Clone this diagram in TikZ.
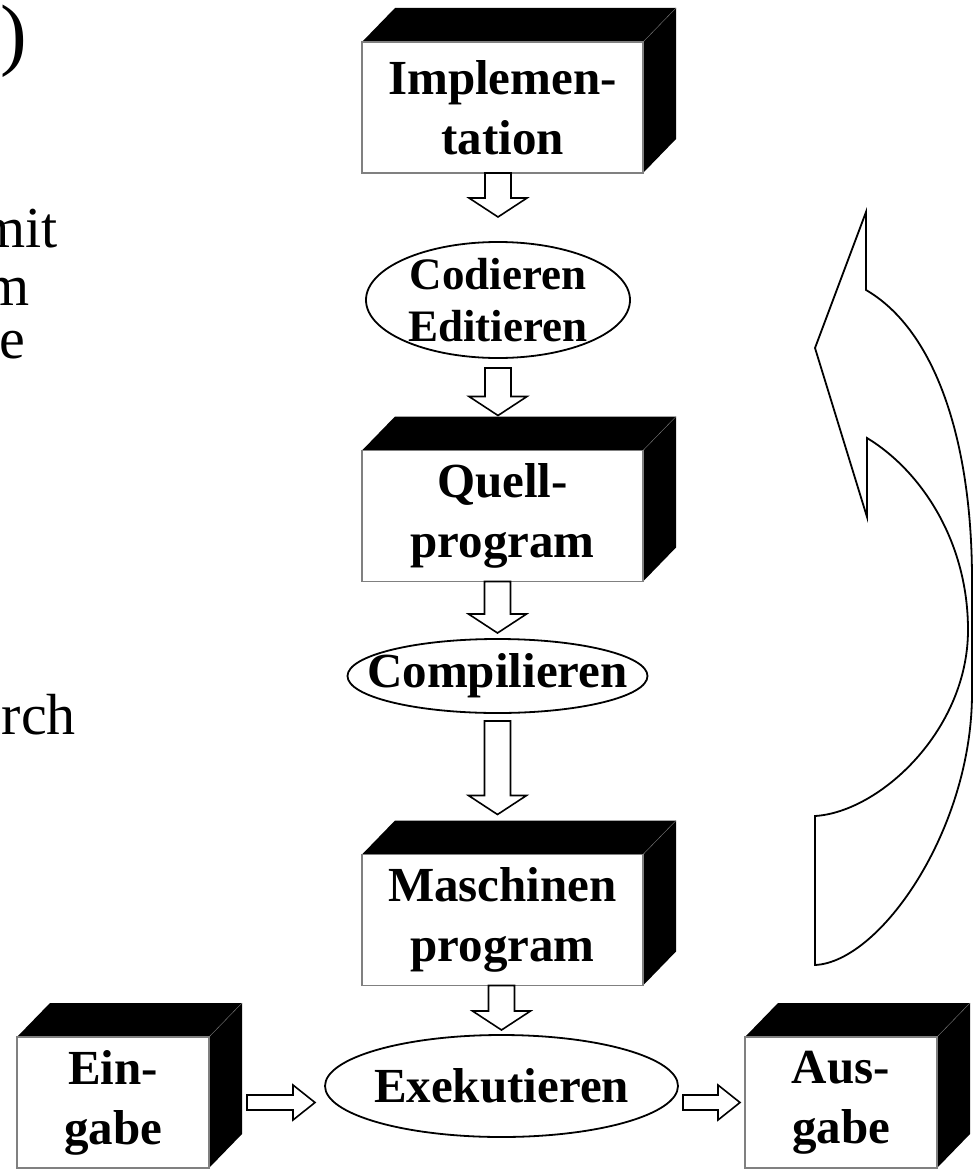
\documentclass[tikz,border=0pt]{standalone}
\usepackage{fontspec}
\setmainfont{Liberation Serif}
\usetikzlibrary{shapes.geometric,calc,backgrounds}
\newcommand\lab{\fontsize{49}{60}\selectfont\bfseries}
\newcommand\body{\fontsize{58}{55}\selectfont}
% hollow block arrows: shaft starts at #1, tip at #2
\newcommand\hollowdown[2]{\draw[hollow] let \p1=(#1), \p2=(#2) in
  (\x2-13pt,\y1) -- (\x2-13pt,\y2+19pt) -- (\x2-29pt,\y2+19pt) -- (\x2,\y2)
  -- (\x2+29pt,\y2+19pt) -- (\x2+13pt,\y2+19pt) -- (\x2+13pt,\y1) -- cycle;}
\newcommand\hollowright[2]{\draw[hollow] let \p1=(#1), \p2=(#2) in
  (\x1,\y1+7.5pt) -- (\x2-22pt,\y1+7.5pt) -- (\x2-22pt,\y1+17.5pt) -- (\x2,\y1)
  -- (\x2-22pt,\y1-17.5pt) -- (\x2-22pt,\y1-7.5pt) -- (\x1,\y1-7.5pt) -- cycle;}
\tikzset{
  front/.style={draw=gray,line width=1.8pt,fill=white,minimum width=281pt,
    minimum height=131pt,inner sep=0pt,outer sep=0pt,align=center,font=\lab},
  smallfront/.style={front,minimum width=192pt},
  oval/.style={ellipse,draw,line width=1.8pt,fill=white,inner sep=0pt,outer sep=0pt},
  txt/.style={align=center,inner sep=0pt,font=\lab},
  hollow/.style={draw,fill=white,line width=1.6pt,line join=miter}
}

\begin{document}
\begin{tikzpicture}[x=1pt,y=-1pt]
  \useasboundingbox (0,0) rectangle (979,1172);
  % slide text cut off at the left edge
  \node[anchor=base east,inner sep=0pt,font=\fontsize{80}{80}\selectfont] (ttl) at (27,60) {?)};
  \node[anchor=base east,inner sep=0pt,font=\body] (w1) at (58,247) {mit};
  \node[anchor=base east,inner sep=0pt,font=\body] (w2) at (30,305) {m};
  \node[anchor=base east,inner sep=0pt,font=\body] (w3) at (25,358) {e};
  \node[anchor=base east,inner sep=0pt,font=\body] (w4) at (76,734) {rch};
  % main column
  \node[front] (impl) at (502.5,107.5) {Implemen-\\tation};
  \node[oval,minimum width=264pt,minimum height=116pt] (cod) at (498,300) {};
  \node[txt,font=\fontsize{45}{52}\selectfont\bfseries] (codt) at (cod) {Codieren\\Editieren};
  \node[front] (quell) at (502.5,516) {Quell-\\program};
  \node[oval,minimum width=300pt,minimum height=74pt] (comp) at (497.5,676) {};
  \node[txt] (compt) at (comp) {Compilieren};
  \node[front] (masch) at (502.5,920) {Maschinen\\program};
  \node[oval,minimum width=353pt,minimum height=102pt] (exe) at (501.5,1086) {};
  \node[txt] (exet) at (exe) {Exekutieren};
  \node[smallfront] (ein) at (113,1102.5) {Ein-\\gabe};
  \node[smallfront] (aus) at (841,1102.5) {Aus-\\gabe};
  % black top and side faces
  \begin{pgfonlayer}{background}
    \foreach \b in {impl,quell,masch,ein,aus}
      \fill (\b.north west) -- ++(33,-34) -- ($(\b.north east)+(33,-34)$)
        -- ($(\b.south east)+(33,-34)$) -- (\b.south east) -- (\b.north east) -- cycle;
  \end{pgfonlayer}
  \foreach \b in {impl,quell,masch,ein,aus}
    \draw[gray,thin] (\b.north east) -- ++(33,-34);
  % arrow tips
  \coordinate (t1) at ($(cod.north)+(0,-25)$);
  \coordinate (t2) at ($(cod.south |- quell.north)+(0,-35)$);
  \coordinate (t3) at ($(comp.north)+(0,-6)$);
  \coordinate (t4) at ($(comp.south |- masch.north)+(0,-40)$);
  \coordinate (t5) at ($(exe.north)+(0,-5)$);
  \coordinate (s2) at ($(cod.south)+(0,10)$);
  \coordinate (s4) at ($(comp.south)+(0,8)$);
  \coordinate (s6) at ($(ein.east)+(38,0)$);
  \coordinate (t6) at ($(exe.west)+(-10,0)$);
  \coordinate (s7) at ($(exe.east |- aus.west)+(5,0)$);
  \coordinate (t7) at ($(aus.west)+(-5,0)$);
  \hollowdown{impl.south}{t1}
  \hollowdown{s2}{t2}
  \hollowdown{quell.south}{t3}
  \hollowdown{s4}{t4}
  \hollowdown{masch.south}{t5}
  \hollowright{s6}{t6}
  \hollowright{s7}{t7}
  % big curved arrow back up
  \draw[line width=1.8pt,line join=miter,fill=white] (815,965) -- (815,816)
    .. controls (880,812) and (968,730) .. (968,630)
    .. controls (968,540) and (920,470) .. (867,438)
    -- (867,517) -- (815,348) -- (866,212) -- (866,290)
    .. controls (935,330) and (972,440) .. (972,580) -- (972,693)
    .. controls (972,830) and (880,962) .. (815,965) -- cycle;
\end{tikzpicture}
\end{document}
